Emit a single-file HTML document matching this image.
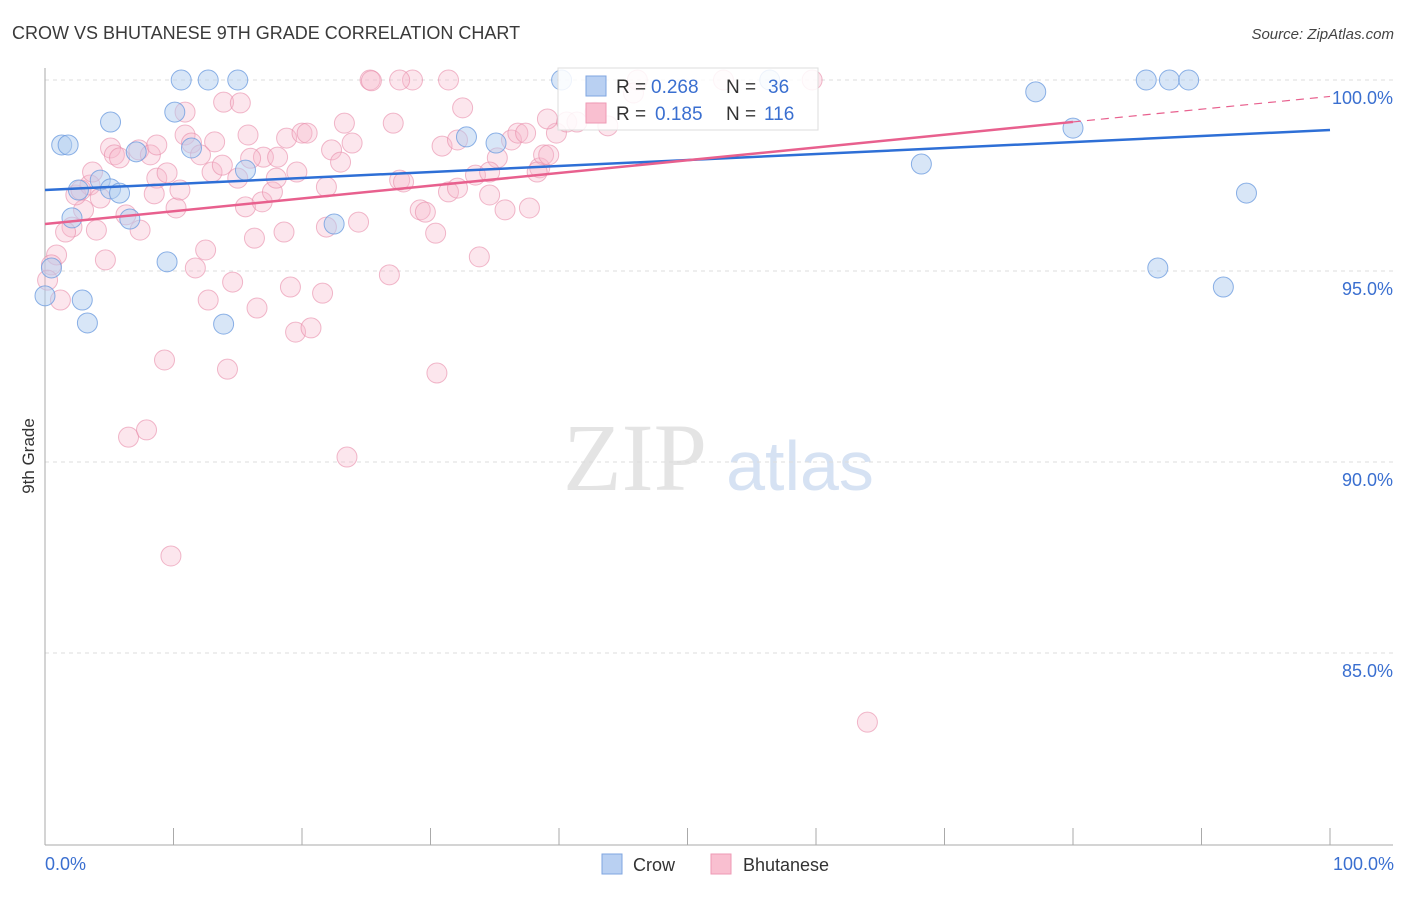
<!DOCTYPE html>
<html><head><meta charset="utf-8"><style>
body{margin:0;background:#fff;font-family:"Liberation Sans",sans-serif}
</style></head><body>
<svg id="chart" width="1406" height="892" xmlns="http://www.w3.org/2000/svg" style="font-family:'Liberation Sans',sans-serif">
<text x="12" y="39" font-size="18" fill="#3a3a3a">CROW VS BHUTANESE 9TH GRADE CORRELATION CHART</text>
<text x="1394" y="39" font-size="15" fill="#444" text-anchor="end" font-style="italic">Source: ZipAtlas.com</text>
<g>
<text x="635" y="490" font-size="96" fill="#e4e4e4" text-anchor="middle" font-family="Liberation Serif">ZIP</text>
<text x="800" y="490" font-size="70" fill="#d6e2f3" text-anchor="middle">atlas</text>
</g>
<g id="grid"></g>
<g id="axes"></g>
<g id="pts"></g>
<g id="trend"></g>
<text transform="translate(34,456) rotate(-90)" font-size="17" fill="#333" text-anchor="middle">9th Grade</text>
<text x="45" y="870" font-size="18" fill="#3a6fd0">0.0%</text>
<text x="1394" y="870" font-size="18" fill="#3a6fd0" text-anchor="end">100.0%</text>
<g>
<rect x="558" y="68" width="260" height="62" fill="#fff" fill-opacity="0.85" stroke="#ddd"/>
<rect x="586" y="76" width="20" height="20" fill="#b9d0f2" stroke="#7fa6e0"/>
<rect x="586" y="103" width="20" height="20" fill="#f9bfd0" stroke="#ee9ab5"/>
<text x="616" y="93" font-size="19" fill="#333">R =</text>
<text x="651" y="93" font-size="19" fill="#3a6fd0">0.268</text>
<text x="726" y="93" font-size="19" fill="#333">N =</text>
<text x="768" y="93" font-size="19" fill="#3a6fd0">36</text>
<text x="616" y="120" font-size="19" fill="#333">R =</text>
<text x="655" y="120" font-size="19" fill="#3a6fd0">0.185</text>
<text x="726" y="120" font-size="19" fill="#333">N =</text>
<text x="764" y="120" font-size="19" fill="#3a6fd0">116</text>
</g>
<g>
<rect x="602" y="854" width="20" height="20" fill="#b9d0f2" stroke="#7fa6e0"/>
<text x="633" y="871" font-size="18" fill="#333">Crow</text>
<rect x="711" y="854" width="20" height="20" fill="#f9bfd0" stroke="#ee9ab5"/>
<text x="743" y="871" font-size="18" fill="#333">Bhutanese</text>
</g>
</svg>
<script>
const crowX=[10.6,12.7,15.0,40.2,56.4,85.7,87.5,89.0,10.1,5.1,77.1,1.3,1.8,11.4,7.1,80.0,68.2,15.6,32.8,35.1,4.3,2.6,5.1,5.8,93.5,2.1,6.6,22.5,9.5,0.5,86.6,0,2.9,91.7,3.3,13.9];
const crowY=[100,100,100,100,100,100,100,100,99.16,98.9,99.69,98.3,98.3,98.22,98.12,98.74,97.8,97.64,98.51,98.35,97.38,97.12,97.15,97.04,97.04,96.39,96.36,96.23,95.24,95.08,95.08,94.35,94.24,94.58,93.64,93.61];
const bhuX=[0.9,0.5,0.2,1.2,2.1,1.6,3.0,2.4,3.5,2.8,3.7,4.0,4.7,4.3,5.1,5.4,5.8,6.3,7.4,7.3,8.2,8.7,8.7,9.5,10.2,10.5,10.9,10.9,11.4,12.1,13.2,13.0,12.5,11.7,12.7,13.9,15.2,13.8,15.0,15.8,15.6,16.3,16.9,17.0,17.7,18.1,18.0,18.8,18.6,19.6,20.0,20.4,21.9,22.3,23.0,23.3,23.9,24.4,21.9,14.6,16.5,19.1,19.5,20.7,21.6,9.3,14.2,6.5,7.9,23.5,9.8,30.5,64.0,25.3,28.6,31.4,32.5,27.1,26.8,27.6,27.9,30.9,32.1,30.4,33.8,31.4,32.1,29.2,29.6,35.2,36.3,36.8,37.4,33.5,34.6,34.6,35.8,37.7,38.5,38.8,39.2,39.8,39.1,40.6,41.4,38.3,43.8,42.8,46.1,52.8,59.7,45.8,27.6,8.5,16.0,25.4];
const bhuY=[95.42,95.16,94.76,94.24,96.15,96.02,96.60,96.99,97.25,97.12,97.59,96.07,95.29,96.91,98.22,98.04,97.96,96.47,96.07,98.17,98.04,98.30,97.43,97.57,96.65,97.12,98.56,99.16,98.35,98.04,98.38,97.59,95.55,95.08,94.24,99.42,99.40,97.77,97.43,98.56,96.68,95.86,96.81,97.98,97.07,97.98,97.43,98.48,96.02,97.59,98.61,98.61,96.15,98.17,97.85,98.87,98.35,96.28,97.20,94.71,94.03,94.58,93.40,93.51,94.42,92.67,92.43,90.65,90.84,90.13,87.54,92.33,83.19,100,100,100,99.27,98.87,94.90,97.38,97.33,98.27,98.43,95.99,95.37,97.07,97.17,96.60,96.54,97.96,98.43,98.61,98.61,97.51,97.59,96.99,96.60,96.65,97.70,98.04,98.04,98.61,98.98,98.90,98.90,97.59,98.80,99.16,100,100,100,99.66,100,97.02,97.95,99.98];
const yTicks=[100,95,90,85];
const yTickLabels=["100.0%","95.0%","90.0%","85.0%"];
const xTicks=[0,10,20,30,40,50,60,70,80,90,100];
const crowTrend=[97.12,98.69];
const bhuTrend=[96.23,99.57];
const bhuSolidEnd=80;
const NS="http://www.w3.org/2000/svg";
const X=v=>45+v*12.85, Y=v=>80+(100-v)*38.2;
function mk(tag,attrs,parent){const e=document.createElementNS(NS,tag);for(const k in attrs)e.setAttribute(k,attrs[k]);parent.appendChild(e);return e;}
const grid=document.getElementById('grid'),axes=document.getElementById('axes'),pts=document.getElementById('pts'),tr=document.getElementById('trend');
yTicks.forEach((t,i)=>{
 const l=mk('line',{x1:45,x2:1393,y1:Y(t),y2:Y(t),stroke:'#ddd','stroke-dasharray':'4,4'},grid);
 
 
 const tx=mk('text',{x:1393,y:Y(t)+24,'font-size':18,fill:'#3a6fd0','text-anchor':'end'},grid);
 tx.textContent=yTickLabels[i];
 
 
});
const ax=mk('line',{x1:45,x2:1393,y1:845,y2:845,stroke:'#aaa'},axes);


const ay=mk('line',{x1:45,x2:45,y1:68,y2:845,stroke:'#aaa'},axes);


xTicks.forEach(t=>{
 const l=mk('line',{x1:X(t),x2:X(t),y1:828,y2:845,stroke:'#aaa'},axes);
 
 
});
bhuX.forEach((v,i)=>{
 const c=mk('circle',{cx:X(v),cy:Y(bhuY[i]),r:10,fill:'#f7b6ca','fill-opacity':0.35,stroke:'#e88aa8','stroke-opacity':0.6},pts);
 
 
});
crowX.forEach((v,i)=>{
 const c=mk('circle',{cx:X(v),cy:Y(crowY[i]),r:10,fill:'#b2cdf0','fill-opacity':0.5,stroke:'#6f9ee0','stroke-opacity':0.8},pts);
 
 
});
const ct=mk('line',{x1:X(0),y1:Y(crowTrend[0]),x2:X(100),y2:Y(crowTrend[1]),stroke:'#2e6fd6','stroke-width':2.5},tr);


const bm=bhuTrend[0]+(bhuTrend[1]-bhuTrend[0])*bhuSolidEnd/100;
const bt=mk('line',{x1:X(0),y1:Y(bhuTrend[0]),x2:X(bhuSolidEnd),y2:Y(bm),stroke:'#e8608e','stroke-width':2.5},tr);


const bd=mk('line',{x1:X(bhuSolidEnd),y1:Y(bm),x2:X(100),y2:Y(bhuTrend[1]),stroke:'#e8608e','stroke-width':1.2,'stroke-dasharray':'8,6'},tr);


</script>
</body></html>
